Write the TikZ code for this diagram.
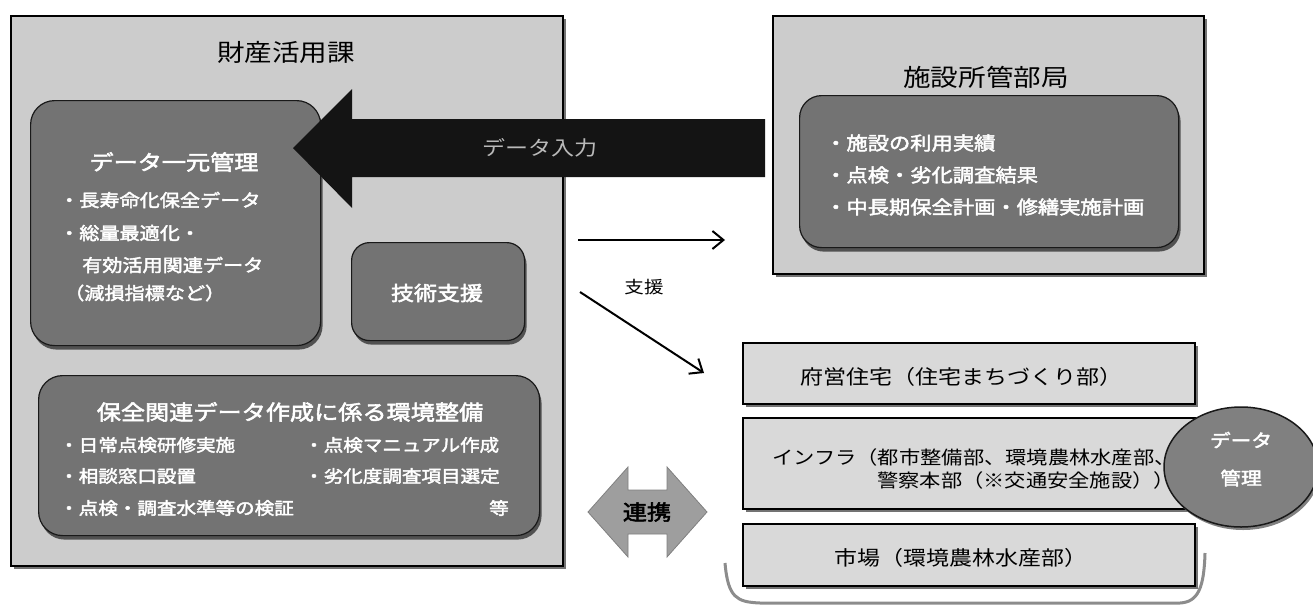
\documentclass[tikz,border=0pt]{standalone}
\usepackage{fontspec}
\setmainfont{Noto Sans CJK JP}[FakeStretch=1.15]
\newfontfamily\jpb{Noto Sans CJK JP}[FakeStretch=1.15,FakeBold=2.5]
\usetikzlibrary{shadows,arrows.meta,shapes.geometric}
\newcommand\jsz[1]{\fontsize{#1}{#1}\selectfont}
\tikzset{
  outerbox/.style={draw=black, line width=1.5pt, fill=black!20, anchor=north west, inner sep=0pt,
    drop shadow={shadow xshift=3pt, shadow yshift=-3pt, fill=black!55, opacity=1}},
  darkbox/.style={draw=black!90, line width=1.2pt, fill=black!55, rounded corners=24pt, anchor=north west, inner sep=0pt,
    drop shadow={shadow xshift=2pt, shadow yshift=-4pt, fill=black!80, opacity=0.8}},
  lightbox/.style={draw=black, line width=1.5pt, fill=black!15, anchor=north west, inner sep=0pt,
    drop shadow={shadow xshift=3pt, shadow yshift=-3pt, fill=black!55, opacity=1}},
  wt/.style={text=white, font=\jpb, inner sep=0pt},
  bt/.style={text=black, inner sep=0pt},
  shien/.style={draw=black, line width=2pt, -{Straight Barb[length=11pt, width=18pt, line width=2pt]}},
}
\begin{document}
\begin{tikzpicture}[x=1pt, y=-1pt]
\useasboundingbox[fill=white] (0,0) rectangle (1313,608);

% left department box
\node[outerbox, minimum width=552pt, minimum height=550pt] (zaisan) at (10,15) {};
\node[bt, font=\jsz{24}] (zaisanT) at (286,52) {財産活用課};

% data management box
\node[darkbox, minimum width=290pt, minimum height=245pt] (ichigen) at (30,100) {};
\node[wt, font=\jpb\jsz{21}] (ichigenT) at (174,162) {データ一元管理};
\node[wt, font=\jpb\jsz{17.5}, anchor=west] (ic1) at (59,200) {・長寿命化保全データ};
\node[wt, font=\jpb\jsz{17.5}, anchor=west] (ic2) at (59,233) {・総量最適化・};
\node[wt, font=\jpb\jsz{17.5}, anchor=west] (ic3) at (82,265) {有効活用関連データ};
\node[wt, font=\jpb\jsz{17.5}, anchor=west] (ic4) at (64,293) {（減損指標など）};

% technical support box
\node[darkbox, rounded corners=18pt, minimum width=173pt, minimum height=98pt] (gijutsu) at (351,242) {};
\node[wt, font=\jpb\jsz{20}] (gijutsuT) at (437,293) {技術支援};

% environment box
\node[darkbox, minimum width=501pt, minimum height=160pt] (hozen) at (38,375) {};
\node[wt, font=\jpb\jsz{21}] (hozenT) at (290,412) {保全関連データ作成に係る環境整備};
\node[wt, font=\jpb\jsz{17}, anchor=west] (hz1) at (59,445) {・日常点検研修実施};
\node[wt, font=\jpb\jsz{17}, anchor=west] (hz2) at (304,445) {・点検マニュアル作成};
\node[wt, font=\jpb\jsz{17}, anchor=west] (hz3) at (59,476) {・相談窓口設置};
\node[wt, font=\jpb\jsz{17}, anchor=west] (hz4) at (304,476) {・劣化度調査項目選定};
\node[wt, font=\jpb\jsz{17}, anchor=west] (hz5) at (59,508) {・点検・調査水準等の検証};
\node[wt, font=\jpb\jsz{17}] (hz6) at (499,508) {等};

% facility departments box
\node[outerbox, minimum width=431pt, minimum height=258pt] (shisetsu) at (772,15) {};
\node[bt, font=\jsz{24}] (shisetsuT) at (986,77) {施設所管部局};
\node[darkbox, rounded corners=22pt, minimum width=379pt, minimum height=152pt] (shin) at (799,95) {};
\node[wt, font=\jpb\jsz{18.5}, anchor=west] (sh1) at (825,143) {・施設の利用実績};
\node[wt, font=\jpb\jsz{18.5}, anchor=west] (sh2) at (825,175) {・点検・劣化調査結果};
\node[wt, font=\jpb\jsz{18.5}, anchor=west] (sh3) at (825,207) {・中長期保全計画・修繕実施計画};

% big data arrow
\fill[black!92] (293,148) -- (352,89) -- (352,119) -- (765,119) -- (765,177) -- (352,177) -- (352,208) -- cycle;
\node[text=gray!55, font=\jsz{20}, inner sep=0pt] (nyuryoku) at (540,148) {データ入力};

% support arrows
\coordinate (s1a) at (578,240);
\coordinate (s1b) at (725,240);
\coordinate (s2a) at (580,292);
\coordinate (s2b) at (704,373);
\draw[shien] (s1a) -- (s1b);
\draw[shien] (s2a) -- (s2b);
\node[bt, font=\jsz{17}] (shienT) at (644,287) {支援};

% cooperation double arrow
\filldraw[fill=black!38, draw=black!50, line width=0.8pt] (588,512) -- (628,467) -- (628,490) -- (667,490) -- (667,467) -- (707,512) -- (667,557) -- (667,534) -- (628,534) -- (628,557) -- cycle;
\node[bt, font=\jpb\jsz{21}] (renkei) at (647,512) {連携};

% bracket under right boxes
\draw[black!45, line width=3pt] (725,563) .. controls (728,598) and (737,602) .. (760,603) -- (1180,603) .. controls (1198,602) and (1204,588) .. (1205,553);

% right lower boxes
\node[lightbox, minimum width=452pt, minimum height=61pt] (fuei) at (742,342) {};
\node[bt, font=\jsz{20}] (fueiT) at (961,377) {府営住宅（住宅まちづくり部）};
\node[lightbox, minimum width=452pt, minimum height=91pt] (infra) at (742,417) {};
\node[bt, font=\jsz{18.5}, anchor=west] (inf1) at (772,457) {インフラ（都市整備部、環境農林水産部、};
\node[bt, font=\jsz{18.5}, anchor=west] (inf2) at (877,480) {警察本部（※交通安全施設））};
\node[lightbox, minimum width=452pt, minimum height=62pt] (ichiba) at (742,523) {};
\node[bt, font=\jsz{20}] (ichibaT) at (961,558) {市場（環境農林水産部）};

% data management circle
\node[ellipse, draw=black!90, line width=1.5pt, fill=black!50, minimum width=154pt, minimum height=120pt,
  drop shadow={shadow xshift=2pt, shadow yshift=-3pt, fill=black!50, opacity=1}] (kanri) at (1241,467) {};
\node[wt, font=\jpb\jsz{18}] (kanri1) at (1241,440) {データ};
\node[wt, font=\jpb\jsz{18}] (kanri2) at (1241,478) {管理};
\end{tikzpicture}
\end{document}
